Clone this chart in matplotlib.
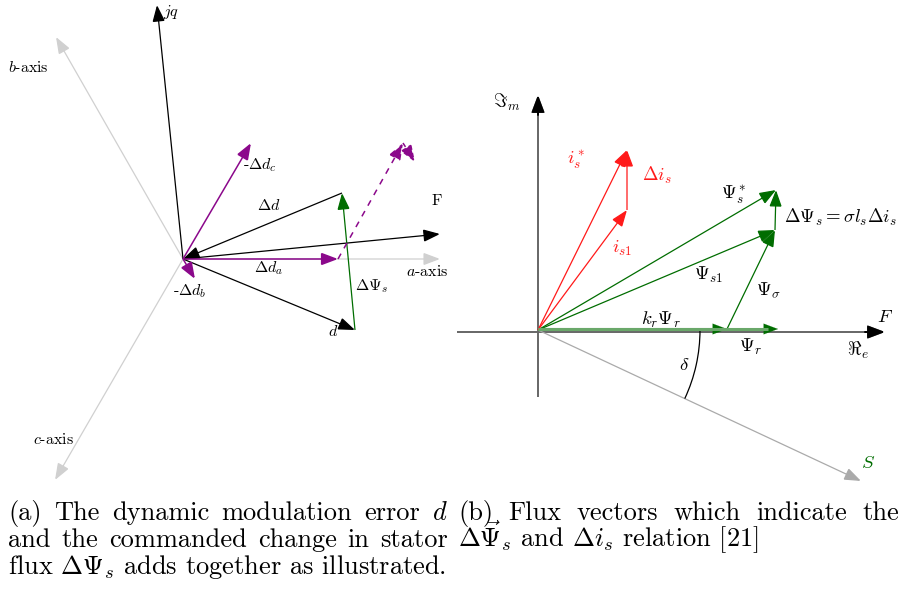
import numpy as np
import matplotlib
matplotlib.use("Agg")
import matplotlib.pyplot as plt
from matplotlib.patches import FancyArrowPatch, Arc

plt.rcParams['font.family'] = ['cmr10', 'DejaVu Serif']
plt.rcParams['mathtext.fontset'] = 'cm'

# ---- panel (a): stator frame vectors (pixel positions)
origin_a = (183, 259)
abc_axes = {"a": (440, 259), "b": (56, 37), "c": (55, 480)}
jq_tip = (157, 5)
F_tip_a = (440, 234)
d_tip = (355, 330)
dd_tail = (342, 193)                 # tail of Delta d (arrow points to origin)
da_tip = (338, 259)
dc_tip = (251, 143)
db_tip = (195, 279)
dash_tip = (403, 143)
dash_tip2 = (415, 162)

# ---- panel (b): flux / current vectors
origin_b = (538, 330)
re_axis = (457, 885)                 # x range of real axis
im_axis = (397, 95)                  # y range of imaginary axis
S_tip = (861, 481)
kr_psi_r = (727, 329)
psi_r = (778, 329)
psi_s1 = (775, 230)
psi_s_star = (776, 190)
i_s1 = (627, 210)
i_s_star = (627, 150)
delta_r = 162                        # radius of delta arc

GREEN = '#006d00'
LGREEN = '#6aa86a'
PURPLE = '#8b088b'
RED = '#ff1a1a'
LGRAY = '#d0d0d0'

fig = plt.figure(figsize=(9.01, 5.96), dpi=100)
ax = fig.add_axes([0, 0, 1, 1])
ax.set_xlim(0, 901)
ax.set_ylim(596, 0)
ax.axis('off')


def arrow(p0, p1, color='black', lw=0.9, head=True, ls='-', hl=0.85, hw=0.32):
    style = '-|>,head_length=%s,head_width=%s' % (hl, hw) if head else '-'
    a = FancyArrowPatch(p0, p1, arrowstyle=style, mutation_scale=12,
                        color=color, lw=lw, linestyle=ls,
                        shrinkA=0, shrinkB=0, joinstyle='miter', capstyle='butt')
    ax.add_patch(a)
    return a


def lab(x, y, s, size=11, color='black', ha='left'):
    ax.text(x, y, s, fontsize=size, color=color, ha=ha, va='center')


# panel (a)
for k, tip in abc_axes.items():
    arrow(origin_a, tip, color=LGRAY, lw=0.9)
arrow(origin_a, jq_tip)
arrow(origin_a, F_tip_a)
arrow(dd_tail, origin_a)
arrow(origin_a, d_tip)
arrow(d_tip, dd_tail, color=GREEN)
arrow(origin_a, da_tip, color=PURPLE, lw=1.1)
arrow(origin_a, dc_tip, color=PURPLE, lw=1.1)
arrow(origin_a, db_tip, color=PURPLE, lw=1.1)
arrow(da_tip, dash_tip, color=PURPLE, lw=1.1, ls=(0, (4, 4)))
arrow(dash_tip, dash_tip2, color=PURPLE, lw=1.1, ls=(0, (3, 2)))

L = 11.5
lab(163, 12, r'$jq$', L)
lab(8, 68, r'$b$-axis', L)
lab(33, 439, r'$c$-axis', L)
lab(406, 271, r'$a$-axis', L)
lab(243, 165, r'-$\Delta d_c$', L)
lab(257, 205, r'$\Delta d$', L)
lab(432, 201, 'F', L)
lab(254, 268, r'$\Delta d_a$', L)
lab(173, 291, r'-$\Delta d_b$', L)
lab(355, 286, r'$\Delta\Psi_s$', L)
lab(328, 332, r'$d$', L)

# panel (b)
arrow((re_axis[0], origin_b[1] + 2), (re_axis[1], origin_b[1] + 2), color='#666666', lw=1.4)
ax.add_patch(FancyArrowPatch((re_axis[1] - 20, origin_b[1] + 2), (re_axis[1], origin_b[1] + 2),
                             arrowstyle='-|>,head_length=0.85,head_width=0.32', mutation_scale=12,
                             color='black', lw=1.4, shrinkA=0, shrinkB=0))
arrow((origin_b[0], im_axis[0]), (origin_b[0], im_axis[1]), color='#666666', lw=1.4)
ax.add_patch(FancyArrowPatch((origin_b[0], im_axis[1] + 20), (origin_b[0], im_axis[1]),
                             arrowstyle='-|>,head_length=0.85,head_width=0.32', mutation_scale=12,
                             color='black', lw=1.4, shrinkA=0, shrinkB=0))
arrow(origin_b, S_tip, color='#aaaaaa', lw=0.9)

ang = np.degrees(np.arctan2(S_tip[1] - origin_b[1], S_tip[0] - origin_b[0]))
ax.add_patch(Arc(origin_b, 2 * delta_r, 2 * delta_r, theta1=0, theta2=ang, color='black', lw=0.9))

for tip in (psi_r, kr_psi_r):
    ax.plot([origin_b[0], tip[0] - 10], [tip[1], tip[1]], color=LGREEN, lw=2.2, solid_capstyle='butt')
    arrow((tip[0] - 12, tip[1]), tip, color=GREEN, lw=0.1)
arrow(kr_psi_r, psi_s1, color=GREEN)
arrow(origin_b, psi_s1, color=GREEN)
arrow(origin_b, psi_s_star, color=GREEN)
arrow(psi_s1, psi_s_star, color=GREEN)
arrow(origin_b, i_s1, color=RED)
arrow(origin_b, i_s_star, color=RED)
arrow(i_s1, i_s_star, color=RED)

R = 13.5
lab(493, 102, r'$\Im_m$', R)
lab(567, 160, r'$i_s^*$', R, RED)
lab(642, 175, r'$\Delta i_s$', R, RED)
lab(721, 195, r'$\Psi_s^*$', R)
lab(784, 217, r'$\Delta\Psi_s = \sigma l_s \Delta i_s$', R)
lab(612, 248, r'$i_{s1}$', R, RED)
lab(694, 275, r'$\Psi_{s1}$', R)
lab(756, 290, r'$\Psi_\sigma$', R)
lab(641, 320, r'$k_r\Psi_r$', R)
lab(877, 317, r'$F$', R)
lab(739, 347, r'$\Psi_r$', R)
lab(847, 350, r'$\Re_e$', R)
lab(679, 365, r'$\delta$', R)
lab(861, 463, r'$S$', R, GREEN)

# captions
CAP = 19
renderer = fig.canvas.get_renderer()


def justify(words, x0, x1, y):
    texts = [ax.text(0, y, w, fontsize=CAP, ha='left', va='baseline') for w in words]
    widths = [t.get_window_extent(renderer).width for t in texts]
    gap = (x1 - x0 - sum(widths)) / (len(words) - 1)
    x = x0
    for t, w in zip(texts, widths):
        t.set_x(x)
        x += w + gap


justify(['(a)', 'The', 'dynamic', 'modulation', 'error', '$d$'], 8, 448, 520)
justify(['and', 'the', 'commanded', 'change', 'in', 'stator'], 8, 448, 547)
ax.text(8, 574, r'flux $\Delta\Psi_s$ adds together as illustrated.', fontsize=CAP, va='baseline')
justify(['(b)', 'Flux', 'vectors', 'which', 'indicate', 'the'], 458, 899, 520)
ax.text(458, 547, r'$\Delta\vec{\Psi}_s$ and $\Delta i_s$ relation [21]', fontsize=CAP, va='baseline')

fig.savefig('out.png', dpi=100)
